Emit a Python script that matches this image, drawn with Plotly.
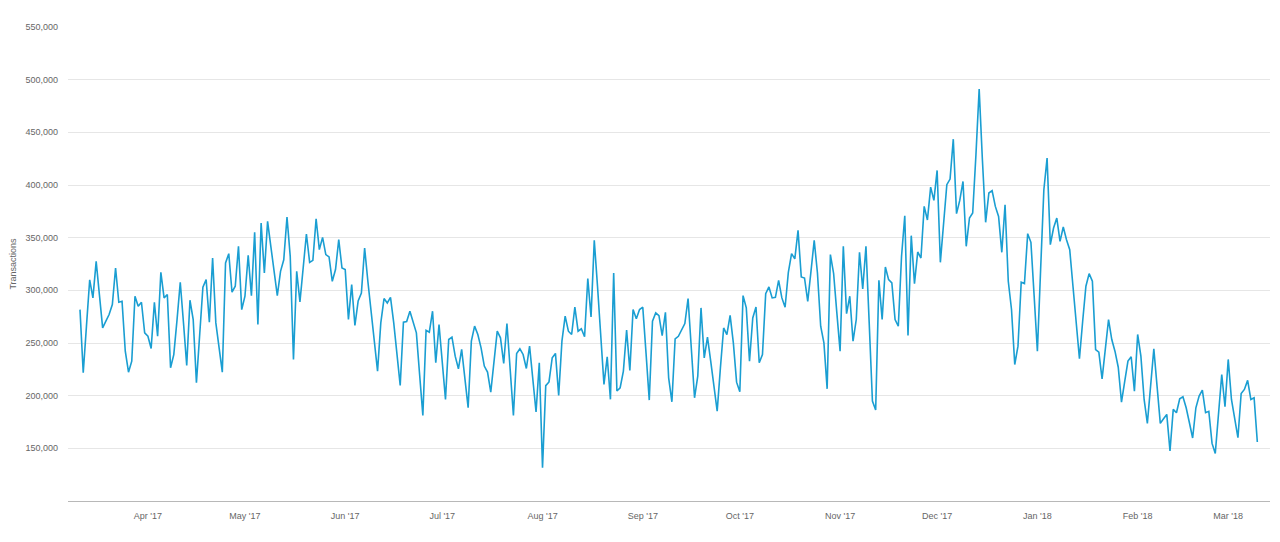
import pandas as pd
import plotly.graph_objects as go

# Daily confirmed transactions, 11 Mar 2017 -> 10 Mar 2018 (values in thousands)
start_date = "2017-03-11"
values_k = [
    281.7, 221.7, 266.0, 310.0, 292.8, 327.5, 296.0, 264.3, 270.7, 277.0,
    286.5, 321.2, 288.7, 289.6, 242.2, 222.3, 232.7, 294.4, 284.9, 288.7,
    259.6, 256.4, 244.8, 288.7, 256.4, 317.1, 292.8, 296.0, 226.5, 239.0,
    272.0, 307.7, 269.0, 228.7, 290.6, 272.3, 212.2, 258.0, 303.0, 310.2,
    269.7, 330.7, 269.1, 245.7, 222.3, 326.0, 334.8, 298.2, 303.9, 341.8,
    281.7, 294.4, 333.3, 295.0, 355.0, 267.5, 363.9, 316.5, 365.5, 341.8,
    316.5, 295.0, 318.0, 329.0, 369.6, 332.3, 234.3, 318.0, 289.0, 321.2,
    353.5, 326.6, 328.5, 368.0, 338.6, 350.3, 333.9, 331.7, 308.6, 319.7,
    348.1, 321.2, 319.7, 272.3, 305.4, 266.6, 290.0, 297.5, 340.2, 308.6,
    281.7, 253.3, 223.3, 269.1, 292.2, 288.0, 293.4, 269.1, 240.7, 209.7,
    269.7, 270.4, 280.2, 269.7, 259.6, 220.1, 181.3, 262.1, 260.3, 280.2,
    231.2, 267.5, 231.2, 196.4, 253.3, 255.5, 237.5, 225.5, 243.9, 216.0,
    188.6, 251.8, 266.0, 258.1, 245.4, 228.1, 222.4, 203.4, 231.2, 261.2,
    254.9, 230.6, 268.5, 224.9, 181.3, 240.0, 244.5, 239.1, 225.8, 247.0,
    215.4, 184.5, 231.2, 131.7, 209.5, 213.0, 236.0, 240.1, 200.3, 251.8,
    275.5, 261.2, 258.1, 284.0, 261.2, 263.5, 255.9, 311.2, 274.8, 347.5,
    303.9, 256.5, 210.7, 236.9, 196.5, 316.5, 204.4, 207.5, 223.3, 262.2,
    224.0, 281.8, 273.0, 281.8, 284.0, 240.6, 195.8, 270.7, 278.6, 276.0,
    257.1, 279.2, 216.9, 194.2, 253.9, 256.4, 262.8, 268.4, 292.2, 243.8,
    198.0, 218.5, 283.3, 235.9, 255.5, 232.7, 209.0, 185.3, 226.4, 264.3,
    258.0, 276.3, 250.1, 212.8, 203.7, 295.0, 283.3, 232.7, 273.8, 284.2,
    231.2, 239.1, 296.9, 303.2, 292.8, 293.4, 309.5, 292.8, 283.9, 317.1,
    334.8, 329.8, 356.9, 312.7, 311.7, 289.6, 318.0, 347.4, 316.5, 265.9,
    250.1, 206.5, 333.9, 316.0, 278.6, 242.2, 341.8, 277.9, 294.4, 251.7,
    272.3, 336.1, 301.3, 341.8, 269.1, 194.8, 186.3, 309.5, 272.3, 322.2,
    310.2, 307.0, 272.3, 265.9, 332.3, 370.8, 257.1, 351.9, 306.4, 336.4,
    330.7, 379.7, 366.8, 398.0, 385.4, 413.8, 326.6, 363.9, 400.3, 405.6,
    443.5, 372.8, 385.4, 403.4, 341.8, 368.7, 373.4, 428.7, 491.0, 424.0,
    364.6, 392.4, 394.6, 379.7, 370.2, 336.1, 381.3, 308.6, 281.8, 229.6,
    247.0, 307.7, 306.4, 353.8, 345.6, 294.4, 242.2, 319.7, 395.5, 425.5,
    343.4, 359.2, 368.6, 346.5, 360.1, 348.1, 338.6, 303.9, 269.1, 235.0,
    270.7, 303.9, 315.9, 308.6, 243.8, 241.3, 216.0, 247.0, 272.3, 253.3,
    242.0, 227.0, 193.9, 213.5, 232.8, 236.9, 204.3, 258.1, 237.5, 196.4,
    173.7, 209.1, 244.5, 209.1, 173.7, 178.1, 182.2, 147.5, 187.0, 183.8,
    197.1, 199.0, 188.5, 174.3, 159.8, 188.5, 199.6, 205.3, 183.8, 185.1,
    154.7, 145.2, 182.2, 220.1, 189.5, 234.4, 196.4, 177.5, 160.1, 202.1,
    205.9, 214.5, 196.4, 198.0, 156.0,
]
dates = pd.date_range(start_date, periods=len(values_k), freq="D")
transactions = [round(v * 1000) for v in values_k]

y_ticks = [150000, 200000, 250000, 300000, 350000, 400000, 450000, 500000, 550000]
x_ticks = ["2017-04-01", "2017-05-01", "2017-06-01", "2017-07-01", "2017-08-01",
           "2017-09-01", "2017-10-01", "2017-11-01", "2017-12-01", "2018-01-01",
           "2018-02-01", "2018-03-01"]

fig = go.Figure(
    go.Scatter(
        x=dates,
        y=transactions,
        mode="lines",
        line=dict(color="#1a9ed2", width=1.6),
        hovertemplate="%{x|%b %d, %Y}<br>%{y:,}<extra></extra>",
    )
)

font_family = "Liberation Sans, Arial, sans-serif"
fig.update_layout(
    width=1280,
    height=542,
    margin=dict(l=60, r=18, t=19, b=49),
    paper_bgcolor="white",
    plot_bgcolor="white",
    showlegend=False,
    font=dict(family=font_family, size=9, color="#666666"),
    xaxis=dict(
        range=["2017-03-07 07:00", "2018-03-13 22:00"],
        tickvals=x_ticks,
        tickformat="%b '%y",
        showgrid=False,
        showline=True,
        linecolor="#b8b8b8",
        linewidth=1,
        ticks="",
        ticklabelstandoff=6,
        tickfont=dict(size=9, color="#666666"),
        zeroline=False,
        automargin=False,
    ),
    yaxis=dict(
        range=[100000, 550000],
        tickvals=y_ticks,
        tickformat=",d",
        showgrid=True,
        gridcolor="#e6e6e6",
        gridwidth=1,
        zeroline=False,
        ticks="",
        ticklabelstandoff=9,
        tickfont=dict(size=9, color="#666666"),
        automargin=False,
        title=dict(text="Transactions", font=dict(size=9, color="#666666"), standoff=8),
    ),
)

fig.write_html("out.html")
